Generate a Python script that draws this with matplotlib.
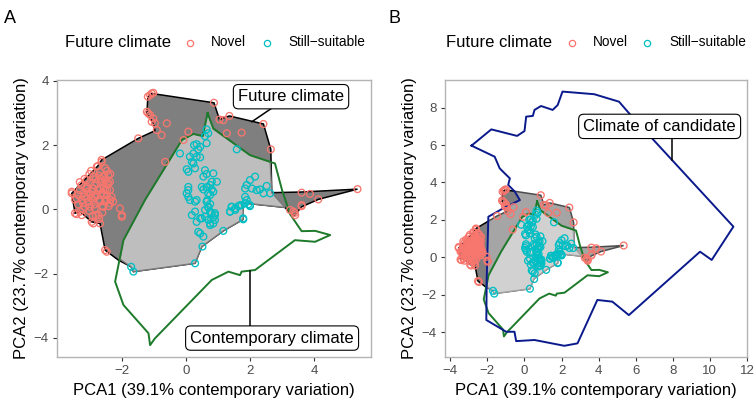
import matplotlib
matplotlib.use("Agg")
import matplotlib.pyplot as plt
from matplotlib.lines import Line2D

plt.rcParams['font.family'] = ['Liberation Sans', 'DejaVu Sans']

# novel future climate points (PCA1, PCA2)
novel_x = [-1.06, -1.11, -1.01, -1.18, -1.17, -1.21, -1.11, -1.01, -0.96, -1.06, -0.59, -0.75, -0.90, -1.48,
           -0.64, -2.62, -2.74, -3.55, 0.08, -0.07, 0.88, 1.05, 1.17, 1.36, 1.28, 1.74, 2.42, 2.65,
           3.61, 3.87, 4.13, 5.35, 3.61, 3.41, 3.35, 3.25, 3.40, 3.61,
           -2.62, -2.77, -2.51, -2.67, -2.88, -2.57, -2.41, -2.98, -2.77, -2.62, -2.46, -2.36, -3.08, -2.88,
           -2.67, -2.51, -2.36, -3.19, -2.98, -2.77, -2.62, -2.46, -2.31, -3.55, -3.40, -3.24, -3.03, -2.88,
           -2.67, -2.51, -2.36, -3.45, -3.29, -2.93, -2.88, -2.67, -2.05, -1.99, -3.14, -2.98, -2.83, -2.57,
           -2.26, -2.72, -3.08, -2.41, -3.40, -3.24, -2.51, -2.46, -1.99,
           -3.30, -3.00, -2.80, -2.70, -3.10, -2.90, -3.35, -2.55, -2.45, -2.85, -3.20, -2.60,
           -3.35, -3.25, -3.15, -3.05, -2.95, -2.85, -2.75, -2.65, -2.55, -2.45, -2.35, -3.20, -3.00, -2.80,
           -2.60, -2.40, -3.30, -3.10, -2.95, -2.70, -2.50, -3.45, -2.90, -2.70, -2.45, -2.35, -3.15, -2.85]
novel_y = [3.61, 3.56, 3.63, 3.51, 2.99, 3.04, 2.94, 2.83, 2.68, 2.73, 2.68, 2.31, 2.47, 2.21,
           1.48, 1.54, 1.35, 0.55, 2.42, 2.16, 3.32, 2.80, 2.78, 2.91, 2.37, 2.39, 2.66, 1.87,
           0.52, 0.48, 0.31, 0.63, 0.10, -0.18, -0.07, -0.02, -0.11, 0.13,
           1.48, 1.33, 1.28, 1.17, 1.02, 1.02, 1.07, 0.81, 0.81, 0.86, 0.81, 0.86, 0.70, 0.65,
           0.65, 0.60, 0.60, 0.50, 0.45, 0.45, 0.50, 0.45, 0.39, 0.50, 0.34, 0.29, 0.24, 0.29,
           0.24, 0.24, 0.19, -0.12, -0.07, -0.39, -0.44, -0.44, 0.03, -0.23, 0.08, 0.08, 0.03, 0.08,
           0.24, -0.18, 0.91, 0.81, -0.15, -0.18, -1.27, -1.32, -0.18,
           0.60, 1.10, 0.95, 0.30, 0.35, 0.55, 0.15, 0.70, 0.30, 0.15, 0.00, -0.10,
           0.45, 0.75, 0.95, 0.55, 0.35, 0.75, 0.60, 0.95, 0.45, 0.60, 0.30, 0.20, -0.05, -0.20,
           0.10, 0.10, 0.85, 0.65, 1.20, 1.05, 0.90, 0.30, -0.20, -0.30, 1.20, 1.10, 0.40, 0.40]

# still-suitable future climate points
suit_x = [0.65, 0.70, 0.60, 0.65, 0.26, 0.34, 0.45, 0.39, -0.18, 0.24, 0.13, 0.34, 0.45, 0.19, 0.24,
          0.03, 0.08, 0.29, 0.60, 0.65, 0.55, 0.86, 0.81, 0.97, 0.76, 0.65, 0.50, 0.55, 0.81, 0.08,
          0.08, 0.03, 0.08, 0.13, 0.34, 0.70, 0.76, 0.86, 0.67, 0.76, 0.70, 0.60, 0.76, 0.91, 0.86,
          0.29, 0.19, 0.45, 0.70, 0.91, 0.76, 1.59, 2.00, 2.16, 1.90, 2.06, 1.85, 2.21, 2.31, 2.52,
          2.42, 2.63, 1.85, 1.90, 1.74, 1.64, 2.00, 1.43, 1.38, 1.54, 1.79,
          0.29, 0.65, 0.70, 0.81, 0.91, 0.60, 0.34, 0.50, 0.76, 0.86, 0.39, 0.45, 0.55, 1.17, 1.38,
          1.54, 1.43, 1.69, 1.85, 1.95, 2.00, 1.79, 0.52, 0.29, -1.70, -1.63]
suit_y = [2.49, 2.37, 2.28, 2.06, 2.00, 2.03, 1.95, 1.87, 1.74, 1.74, 1.64, 1.64, 1.62, 1.48, 1.43,
          1.25, 1.17, 1.28, 1.22, 1.10, 1.02, 1.12, 0.86, 0.86, 0.76, 0.69, 0.70, 0.62, 0.62, 0.70,
          0.60, 0.50, 0.39, 0.29, 0.29, 0.50, 0.45, 0.55, 0.29, 0.17, 0.06, -0.02, -0.07, -0.12, -0.25,
          -0.07, -0.18, -0.28, -0.33, -0.33, -0.49, 1.87, 0.91, 1.02, 0.76, 0.65, 0.65, 0.60, 0.62, 0.73,
          0.50, 0.50, 0.39, 0.29, 0.13, 0.10, 0.10, 0.08, -0.07, 0.03, -0.28,
          0.24, 0.24, 0.08, -0.12, -0.18, -0.23, -0.39, -0.28, -0.44, -0.44, -0.70, -0.75, -0.85, -0.67, -0.07,
          -0.02, 0.08, 0.13, 0.19, 0.16, 0.13, -0.31, -1.16, -1.68, -1.79, -1.94]

# outline of all future climate
future_x = [-1.06, 0.88, 1.05, 1.36, 2.42, 2.65, 2.68, 3.61, 5.35, 4.13, 3.61, 3.38, 3.25, 3.09, 1.79, 1.79,
            1.17, 0.50, 0.29, -1.63, -1.70, -2.10, -2.51, -2.57, -2.67, -2.93, -3.29, -3.45, -3.55,
            -2.74, -2.62, -1.48, -0.96, -1.01, -1.21, -1.18]
future_y = [3.61, 3.32, 2.80, 2.91, 2.66, 1.87, 0.52, 0.54, 0.63, 0.31, 0.08, -0.20, -0.12, 0.06, 0.20, -0.31,
            -0.67, -1.16, -1.68, -1.94, -1.79, -1.58, -1.27, -0.96, -0.44, -0.39, -0.07, -0.12, 0.50,
            1.35, 1.54, 2.21, 2.45, 2.68, 2.99, 3.51]

# outline of still-suitable future climate
suitable_x = [-2.05, -1.70, -1.63, 0.29, 0.50, 1.17, 1.79, 1.79, 3.09, 2.68, 2.63, 2.00, 0.86, 0.68,
              0.53, 0.24, -0.12, -1.27, -1.94]
suitable_y = [-1.55, -1.79, -1.94, -1.68, -1.16, -0.67, -0.31, 0.20, 0.06, 0.52, 1.48, 1.69, 2.50, 3.00,
              2.28, 2.35, 2.16, 0.29, -0.96]

# contemporary climate outline
contemp_x = [0.68, 0.86, 2.00, 2.78, 3.00, 3.25, 3.61, 4.03, 4.50, 4.03, 3.40, 2.16, 1.74, 1.69, 1.33, 0.81,
             -0.96, -1.11, -1.16, -1.94, -2.20, -1.94, -1.27, -0.12, 0.24, 0.53, 0.68]
contemp_y = [3.00, 2.52, 1.69, 1.43, 0.60, -0.15, -0.68, -0.67, -0.80, -1.01, -0.96, -1.89, -1.94, -2.05,
             -1.94, -2.20, -4.02, -4.23, -3.86, -2.98, -2.25, -0.96, 0.29, 2.16, 2.35, 2.28, 3.00]

# climate of candidate outline (panel B)
cand_x = [-2.86, -1.79, -0.40, 0.00, 0.09, 0.45, 0.54, 0.89, 1.52, 1.79, 2.05, 3.76, 5.10, 5.72, 11.27,
          10.10, 9.47, 5.63, 4.74, 3.93, 2.86, 2.15, 0.54, -0.45, -0.54, -0.99, -2.06, -2.04, -1.95,
          -1.15, -0.25, -0.52, -0.88, -0.79, -1.07, -1.34, -1.61, -2.86]
cand_y = [5.97, 6.84, 6.49, 6.75, 7.52, 7.56, 7.88, 8.09, 7.88, 8.14, 8.86, 8.72, 8.32, 7.61, 1.64,
          -0.14, 0.30, -3.09, -2.37, -2.28, -4.60, -4.73, -4.42, -4.48, -3.98, -3.98, -3.35, -1.21, 2.17,
          2.62, 3.06, 3.51, 3.87, 4.22, 4.49, 4.76, 5.38, 5.97]

red = '#F8766D'
cyan = '#00BFC4'
green = '#1d7a2a'
navy = '#0a1a8c'


def label(ax, text, xy, xytext, line_end):
    # leader line from the outline to the label, label box drawn over it
    ax.plot([xy[0], line_end[0]], [xy[1], line_end[1]], color='black', lw=1.1, zorder=6)
    ax.text(xytext[0], xytext[1], text, ha='center', va='center', fontsize=12, zorder=7,
            bbox=dict(boxstyle='round,pad=0.28,rounding_size=0.3', fc='white', ec='black', lw=0.8))


def panel(ax, candidate):
    ax.fill(future_x, future_y, facecolor='#7f7f7f', edgecolor='black', lw=1.1, zorder=1)
    ax.fill(suitable_x, suitable_y, facecolor='#bebebe', edgecolor='#7a7a7a', lw=1.0, zorder=2)
    if candidate:
        ax.fill(cand_x, cand_y, facecolor='white', alpha=0.3, lw=0, zorder=3)
    ax.plot(contemp_x, contemp_y, color=green, lw=1.4, zorder=4)
    if candidate:
        ax.plot(cand_x, cand_y, color=navy, lw=1.4, zorder=4)
    ax.scatter(novel_x, novel_y, s=24, facecolors='none', edgecolors=red, linewidths=0.95, zorder=5)
    ax.scatter(suit_x, suit_y, s=24, facecolors='none', edgecolors=cyan, linewidths=0.95, zorder=5)
    for sp in ax.spines.values():
        sp.set_color('#b3b3b3')
        sp.set_linewidth(1.0)
    ax.tick_params(length=3, width=0.8, color='#333333', labelcolor='#4d4d4d', labelsize=9.5, pad=3)
    ax.set_xlabel('PCA1 (39.1% contemporary variation)', fontsize=12, labelpad=4)
    ax.set_ylabel('PCA2 (23.7% contemporary variation)', fontsize=12, labelpad=3)


fig = plt.figure(figsize=(7.56, 4.04), dpi=100)
axA = fig.add_axes([0.0754, 0.1163, 0.4153, 0.6857])
axB = fig.add_axes([0.5886, 0.1163, 0.3994, 0.6857])

panel(axA, False)
axA.set_xlim(-4.01, 5.77)
axA.set_ylim(-4.60, 4.03)
axA.set_xticks([-2, 0, 2, 4])
axA.set_yticks([-4, -2, 0, 2, 4])
label(axA, 'Future climate', (2.06, 2.73), (3.28, 3.51), (2.9, 3.3))
label(axA, 'Contemporary climate', (2.0, -1.92), (2.69, -4.01), (2.0, -3.9))

panel(axB, True)
axB.set_xlim(-4.29, 11.94)
axB.set_ylim(-5.33, 9.48)
axB.set_xticks(range(-4, 13, 2))
axB.set_yticks([-4, -2, 0, 2, 4, 6, 8])
label(axB, 'Climate of candidate', (7.96, 5.2), (7.29, 7.0), (7.96, 6.9))

# panel tags and legends (positions in pixels of the 756x404 figure)
W, H = 756.0, 404.0
ly = 1 - 42.5 / H
for tag_x, title_x, m1, t1, m2, t2, tag in [(4, 65, 190, 211, 267, 288, 'A'),
                                            (388, 446, 572, 593, 647, 669, 'B')]:
    fig.text(tag_x / W, 0.975, tag, fontsize=13, va='top', ha='left')
    fig.text(title_x / W, ly, 'Future climate', fontsize=12, va='center', ha='left')
    fig.add_artist(Line2D([m1 / W], [ly], marker='o', ms=4.5, mfc='none', mec=red, mew=0.9,
                          transform=fig.transFigure))
    fig.text(t1 / W, ly, 'Novel', fontsize=9.8, va='center', ha='left')
    fig.add_artist(Line2D([m2 / W], [ly], marker='o', ms=4.5, mfc='none', mec=cyan, mew=0.9,
                          transform=fig.transFigure))
    fig.text(t2 / W, ly, 'Still−suitable', fontsize=9.8, va='center', ha='left')

fig.savefig('out.png', dpi=100)
